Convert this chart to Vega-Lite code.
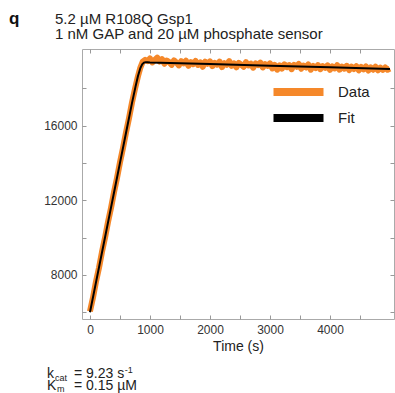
{
  "$schema": "https://vega.github.io/schema/vega-lite/v6.json",
  "width": 312,
  "height": 270,
  "autosize": {"type": "none"},
  "padding": {"left": 82, "top": 49, "right": 1, "bottom": 74},
  "background": "white",
  "config": {
    "view": {"stroke": "#aaa", "strokeWidth": 1},
    "axis": {
      "domain": false,
      "grid": false,
      "tickColor": "#999",
      "tickSize": -4,
      "labelFont": "Liberation Sans",
      "labelFontSize": 12,
      "labelColor": "#333",
      "titleFont": "Liberation Sans",
      "titleFontSize": 14,
      "titleFontWeight": "normal",
      "titleColor": "#222"
    },
    "legend": {"labelFont": "Liberation Sans"},
    "text": {"font": "Liberation Sans", "color": "#222", "align": "left", "baseline": "alphabetic"}
  },
  "datasets": {
    "curves": [
      {"t": 0, "v": 6050, "series": "Data"},
      {"t": 50, "v": 6780, "series": "Data"},
      {"t": 100, "v": 7640, "series": "Data"},
      {"t": 150, "v": 8380, "series": "Data"},
      {"t": 200, "v": 9230, "series": "Data"},
      {"t": 250, "v": 9980, "series": "Data"},
      {"t": 300, "v": 10830, "series": "Data"},
      {"t": 350, "v": 11580, "series": "Data"},
      {"t": 400, "v": 12420, "series": "Data"},
      {"t": 450, "v": 13180, "series": "Data"},
      {"t": 500, "v": 14030, "series": "Data"},
      {"t": 550, "v": 14790, "series": "Data"},
      {"t": 600, "v": 15620, "series": "Data"},
      {"t": 650, "v": 16380, "series": "Data"},
      {"t": 700, "v": 17230, "series": "Data"},
      {"t": 750, "v": 17970, "series": "Data"},
      {"t": 800, "v": 18640, "series": "Data"},
      {"t": 840, "v": 19100, "series": "Data"},
      {"t": 880, "v": 19420, "series": "Data"},
      {"t": 920, "v": 19520, "series": "Data"},
      {"t": 960, "v": 19450, "series": "Data"},
      {"t": 1000, "v": 19590, "series": "Data"},
      {"t": 1040, "v": 19380, "series": "Data"},
      {"t": 1080, "v": 19520, "series": "Data"},
      {"t": 1120, "v": 19640, "series": "Data"},
      {"t": 1160, "v": 19430, "series": "Data"},
      {"t": 1200, "v": 19560, "series": "Data"},
      {"t": 1240, "v": 19310, "series": "Data"},
      {"t": 1280, "v": 19480, "series": "Data"},
      {"t": 1320, "v": 19400, "series": "Data"},
      {"t": 1360, "v": 19250, "series": "Data"},
      {"t": 1400, "v": 19490, "series": "Data"},
      {"t": 1440, "v": 19380, "series": "Data"},
      {"t": 1480, "v": 19220, "series": "Data"},
      {"t": 1520, "v": 19450, "series": "Data"},
      {"t": 1560, "v": 19330, "series": "Data"},
      {"t": 1600, "v": 19470, "series": "Data"},
      {"t": 1640, "v": 19200, "series": "Data"},
      {"t": 1680, "v": 19400, "series": "Data"},
      {"t": 1720, "v": 19290, "series": "Data"},
      {"t": 1760, "v": 19460, "series": "Data"},
      {"t": 1800, "v": 19250, "series": "Data"},
      {"t": 1840, "v": 19380, "series": "Data"},
      {"t": 1880, "v": 19150, "series": "Data"},
      {"t": 1920, "v": 19420, "series": "Data"},
      {"t": 1960, "v": 19310, "series": "Data"},
      {"t": 2000, "v": 19440, "series": "Data"},
      {"t": 2040, "v": 19180, "series": "Data"},
      {"t": 2080, "v": 19350, "series": "Data"},
      {"t": 2120, "v": 19260, "series": "Data"},
      {"t": 2160, "v": 19420, "series": "Data"},
      {"t": 2200, "v": 19130, "series": "Data"},
      {"t": 2240, "v": 19340, "series": "Data"},
      {"t": 2280, "v": 19250, "series": "Data"},
      {"t": 2320, "v": 19450, "series": "Data"},
      {"t": 2360, "v": 19200, "series": "Data"},
      {"t": 2400, "v": 19330, "series": "Data"},
      {"t": 2440, "v": 19120, "series": "Data"},
      {"t": 2480, "v": 19360, "series": "Data"},
      {"t": 2520, "v": 19260, "series": "Data"},
      {"t": 2560, "v": 19150, "series": "Data"},
      {"t": 2600, "v": 19390, "series": "Data"},
      {"t": 2640, "v": 19220, "series": "Data"},
      {"t": 2680, "v": 19310, "series": "Data"},
      {"t": 2720, "v": 19100, "series": "Data"},
      {"t": 2760, "v": 19330, "series": "Data"},
      {"t": 2800, "v": 19240, "series": "Data"},
      {"t": 2840, "v": 19370, "series": "Data"},
      {"t": 2880, "v": 19110, "series": "Data"},
      {"t": 2920, "v": 19290, "series": "Data"},
      {"t": 2960, "v": 19200, "series": "Data"},
      {"t": 3000, "v": 19330, "series": "Data"},
      {"t": 3040, "v": 19060, "series": "Data"},
      {"t": 3080, "v": 19250, "series": "Data"},
      {"t": 3120, "v": 18990, "series": "Data"},
      {"t": 3160, "v": 19220, "series": "Data"},
      {"t": 3200, "v": 19050, "series": "Data"},
      {"t": 3240, "v": 19280, "series": "Data"},
      {"t": 3280, "v": 19130, "series": "Data"},
      {"t": 3320, "v": 19240, "series": "Data"},
      {"t": 3360, "v": 19020, "series": "Data"},
      {"t": 3400, "v": 19250, "series": "Data"},
      {"t": 3440, "v": 19150, "series": "Data"},
      {"t": 3480, "v": 19300, "series": "Data"},
      {"t": 3520, "v": 19040, "series": "Data"},
      {"t": 3560, "v": 19210, "series": "Data"},
      {"t": 3600, "v": 19110, "series": "Data"},
      {"t": 3640, "v": 19270, "series": "Data"},
      {"t": 3680, "v": 18990, "series": "Data"},
      {"t": 3720, "v": 19190, "series": "Data"},
      {"t": 3760, "v": 19080, "series": "Data"},
      {"t": 3800, "v": 19240, "series": "Data"},
      {"t": 3840, "v": 19020, "series": "Data"},
      {"t": 3880, "v": 19180, "series": "Data"},
      {"t": 3920, "v": 19090, "series": "Data"},
      {"t": 3960, "v": 19220, "series": "Data"},
      {"t": 4000, "v": 18980, "series": "Data"},
      {"t": 4040, "v": 19170, "series": "Data"},
      {"t": 4080, "v": 19060, "series": "Data"},
      {"t": 4120, "v": 19230, "series": "Data"},
      {"t": 4160, "v": 18990, "series": "Data"},
      {"t": 4200, "v": 19160, "series": "Data"},
      {"t": 4240, "v": 19050, "series": "Data"},
      {"t": 4280, "v": 19200, "series": "Data"},
      {"t": 4320, "v": 18970, "series": "Data"},
      {"t": 4360, "v": 19150, "series": "Data"},
      {"t": 4400, "v": 19030, "series": "Data"},
      {"t": 4440, "v": 19180, "series": "Data"},
      {"t": 4480, "v": 18960, "series": "Data"},
      {"t": 4520, "v": 19140, "series": "Data"},
      {"t": 4560, "v": 19010, "series": "Data"},
      {"t": 4600, "v": 19160, "series": "Data"},
      {"t": 4640, "v": 18950, "series": "Data"},
      {"t": 4680, "v": 19120, "series": "Data"},
      {"t": 4720, "v": 18990, "series": "Data"},
      {"t": 4760, "v": 19150, "series": "Data"},
      {"t": 4800, "v": 18960, "series": "Data"},
      {"t": 4840, "v": 19100, "series": "Data"},
      {"t": 4880, "v": 18980, "series": "Data"},
      {"t": 4920, "v": 19110, "series": "Data"},
      {"t": 4960, "v": 18990, "series": "Data"},
      {"t": 5000, "v": 19050, "series": "Data"},
      {"t": 0, "v": 6000, "series": "Fit"},
      {"t": 100, "v": 7600, "series": "Fit"},
      {"t": 200, "v": 9200, "series": "Fit"},
      {"t": 300, "v": 10800, "series": "Fit"},
      {"t": 400, "v": 12400, "series": "Fit"},
      {"t": 500, "v": 14000, "series": "Fit"},
      {"t": 600, "v": 15600, "series": "Fit"},
      {"t": 700, "v": 17200, "series": "Fit"},
      {"t": 760, "v": 18100, "series": "Fit"},
      {"t": 800, "v": 18650, "series": "Fit"},
      {"t": 840, "v": 19080, "series": "Fit"},
      {"t": 870, "v": 19280, "series": "Fit"},
      {"t": 900, "v": 19370, "series": "Fit"},
      {"t": 930, "v": 19395, "series": "Fit"},
      {"t": 960, "v": 19390, "series": "Fit"},
      {"t": 1000, "v": 19383, "series": "Fit"},
      {"t": 2000, "v": 19295, "series": "Fit"},
      {"t": 3000, "v": 19207, "series": "Fit"},
      {"t": 4000, "v": 19120, "series": "Fit"},
      {"t": 5000, "v": 19032, "series": "Fit"}
    ]
  },
  "layer": [
    {
      "data": {"name": "curves"},
      "transform": [{"filter": "datum.series === 'Data'"}],
      "mark": {"type": "line", "strokeWidth": 6, "strokeJoin": "round"},
      "encoding": {
        "x": {
          "field": "t", "type": "quantitative",
          "scale": {"domain": [-133, 5067], "nice": false, "zero": false},
          "axis": {"orient": "bottom", "title": "Time (s)", "titlePadding": 4,
                   "values": [0, 500, 1000, 1500, 2000, 2500, 3000, 3500, 4000, 4500],
                   "labelExpr": "datum.value % 1000 === 0 ? format(datum.value, 'd') : ''",
                   "labelPadding": 9}
        },
        "y": {
          "field": "v", "type": "quantitative",
          "scale": {"domain": [5640, 20100], "nice": false, "zero": false},
          "axis": {"orient": "left", "title": null,
                   "values": [6000, 8000, 10000, 12000, 14000, 16000, 18000],
                   "labelExpr": "datum.value % 4000 === 0 ? format(datum.value, 'd') : ''",
                   "labelPadding": 9}
        },
        "color": {
          "field": "series", "type": "nominal",
          "scale": {"domain": ["Data", "Fit"], "range": ["#f5882a", "#000000"]},
          "legend": {"title": null, "orient": "none", "legendX": 207.5, "legendY": 34,
                     "symbolType": "M-5,0H5", "symbolStrokeWidth": 8, "symbolSize": 100,
                     "labelFontSize": 15, "labelOffset": 30.5, "labelColor": "#222",
                     "rowPadding": -6}
        }
      }
    },
    {
      "data": {"name": "curves"},
      "transform": [{"filter": "datum.series === 'Fit'"}],
      "mark": {"type": "line", "strokeWidth": 2},
      "encoding": {
        "x": {
          "field": "t", "type": "quantitative",
          "axis": {"orient": "top", "title": null, "labels": false,
                   "values": [0, 500, 1000, 1500, 2000, 2500, 3000, 3500, 4000, 4500]}
        },
        "y": {
          "field": "v", "type": "quantitative",
          "axis": {"orient": "right", "title": null, "labels": false,
                   "values": [6000, 8000, 10000, 12000, 14000, 16000, 18000]}
        },
        "color": {
          "field": "series", "type": "nominal",
          "legend": {"title": null, "orient": "none", "legendX": 207.5, "legendY": 34,
                     "symbolType": "M-5,0H5", "symbolStrokeWidth": 8, "symbolSize": 100,
                     "labelFontSize": 15, "labelOffset": 30.5, "labelColor": "#222",
                     "rowPadding": -6}
        }
      }
    },
    {
      "data": {"values": [{"label": "q"}]},
      "mark": {"type": "text", "fontSize": 17, "fontWeight": "bold", "color": "#111"},
      "encoding": {
        "x": {"datum": -1350, "type": "quantitative", "axis": null},
        "y": {"datum": 21444, "type": "quantitative", "axis": null},
        "text": {"field": "label"}
      }
    },
    {
      "data": {"values": [{"label": "5.2 µM R108Q Gsp1"}]},
      "mark": {"type": "text", "fontSize": 15},
      "encoding": {
        "x": {"datum": -583, "type": "quantitative", "axis": null},
        "y": {"datum": 21444, "type": "quantitative", "axis": null},
        "text": {"field": "label"}
      }
    },
    {
      "data": {"values": [{"label": "1 nM GAP and 20 µM phosphate sensor"}]},
      "mark": {"type": "text", "fontSize": 15},
      "encoding": {
        "x": {"datum": -583, "type": "quantitative", "axis": null},
        "y": {"datum": 20640, "type": "quantitative", "axis": null},
        "text": {"field": "label"}
      }
    },
    {
      "data": {"values": [{"label": "k"}]},
      "mark": {"type": "text", "fontSize": 14},
      "encoding": {
        "x": {"datum": -716, "type": "quantitative", "axis": null},
        "y": {"datum": 2479, "type": "quantitative", "axis": null},
        "text": {"field": "label"}
      }
    },
    {
      "data": {"values": [{"label": "cat"}]},
      "mark": {"type": "text", "fontSize": 9},
      "encoding": {
        "x": {"datum": -583, "type": "quantitative", "axis": null},
        "y": {"datum": 2319, "type": "quantitative", "axis": null},
        "text": {"field": "label"}
      }
    },
    {
      "data": {"values": [{"label": "= 9.23 s"}]},
      "mark": {"type": "text", "fontSize": 14},
      "encoding": {
        "x": {"datum": -266, "type": "quantitative", "axis": null},
        "y": {"datum": 2479, "type": "quantitative", "axis": null},
        "text": {"field": "label"}
      }
    },
    {
      "data": {"values": [{"label": "-1"}]},
      "mark": {"type": "text", "fontSize": 9},
      "encoding": {
        "x": {"datum": 580, "type": "quantitative", "axis": null},
        "y": {"datum": 2747, "type": "quantitative", "axis": null},
        "text": {"field": "label"}
      }
    },
    {
      "data": {"values": [{"label": "K"}]},
      "mark": {"type": "text", "fontSize": 14},
      "encoding": {
        "x": {"datum": -716, "type": "quantitative", "axis": null},
        "y": {"datum": 1863, "type": "quantitative", "axis": null},
        "text": {"field": "label"}
      }
    },
    {
      "data": {"values": [{"label": "m"}]},
      "mark": {"type": "text", "fontSize": 9},
      "encoding": {
        "x": {"datum": -550, "type": "quantitative", "axis": null},
        "y": {"datum": 1729, "type": "quantitative", "axis": null},
        "text": {"field": "label"}
      }
    },
    {
      "data": {"values": [{"label": "= 0.15 µM"}]},
      "mark": {"type": "text", "fontSize": 14},
      "encoding": {
        "x": {"datum": -266, "type": "quantitative", "axis": null},
        "y": {"datum": 1863, "type": "quantitative", "axis": null},
        "text": {"field": "label"}
      }
    }
  ],
  "resolve": {"axis": {"x": "independent", "y": "independent"}}
}
